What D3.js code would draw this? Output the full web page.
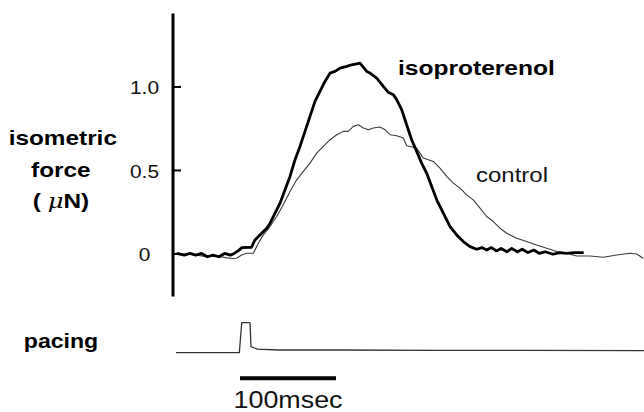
<!DOCTYPE html>
<html>
<head>
<meta charset="utf-8">
<script src="https://cdn.jsdelivr.net/npm/d3@7"></script>
<style>
  html, body { margin: 0; padding: 0; background: #fff; }
  svg { display: block; font-family: "Liberation Sans", Arial, Helvetica, sans-serif; }
</style>
</head>
<body>
<svg id="chart" width="644" height="412"></svg>
<script>
// ---- data (time in msec after stimulus, force in µN) ----
const isoTime = [-66,-58,-52,-46,-40,-34,-28,-22,-16,-10,-6,-2,2,12,15.6,20.8,27.8,31.3,36.5,41.7,46.9,52.1,57.3,62.5,67.7,72.9,78.1,83.3,88.5,93.8,99,104.2,111.1,116.3,121.5,125,132,135.4,142.4,149.3,154.5,159.7,163.2,168.4,173.6,178.8,184,189.2,194.4,199.7,204.9,211.8,218.8,225.7,232.6,239.6,246.5,252,257,262,267,272,278,283,289,294,300,306,312,318,326,333,340,348,358];
const isoForce = [0,-0.01,0,-0.01,0,-0.02,-0.01,-0.02,0,-0.01,0,0.015,0.035,0.037,0.081,0.111,0.151,0.181,0.241,0.301,0.381,0.461,0.561,0.641,0.731,0.821,0.911,0.971,1.03,1.08,1.09,1.11,1.12,1.13,1.135,1.14,1.09,1.08,1.05,1.0,0.965,0.951,0.921,0.861,0.771,0.681,0.611,0.541,0.481,0.401,0.321,0.241,0.161,0.111,0.071,0.041,0.025,0.035,0.02,0.035,0.015,0.03,0.01,0.03,0.01,0.025,0.005,0.02,0,0.01,-0.005,0.005,0,0.005,0.005];

const ctrlTime = [-66,-55,-45,-35,-25,-15,-8,-3.5,1.7,6.9,13.9,19.1,24.3,31.3,38.2,45.1,52.1,59,66,72.9,79.9,86.8,93.8,100.7,107.6,112.8,118.1,123.3,128.5,133.7,138.9,145.8,151,156.3,163.2,170.1,173.6,184,190.9,201.4,208.3,215.3,222.2,229.2,236.1,243,250,257,263.9,270.8,277.8,288.2,298.6,309,319.4,329.9,340.3,350.7,364.6,378.5,392.4,406.3,413.2,420];
const ctrlForce = [0,-0.005,-0.01,-0.02,-0.015,-0.025,-0.03,-0.029,-0.009,0.001,0.001,0.061,0.111,0.161,0.221,0.291,0.371,0.441,0.491,0.541,0.601,0.641,0.681,0.711,0.731,0.731,0.761,0.771,0.751,0.741,0.751,0.757,0.741,0.711,0.705,0.691,0.645,0.631,0.571,0.551,0.511,0.461,0.421,0.391,0.351,0.321,0.271,0.221,0.191,0.151,0.121,0.091,0.071,0.051,0.031,0.011,0.001,-0.015,-0.015,-0.023,-0.009,0.001,-0.003,-0.029];

const pacingTime = [-66.7,-0.7,1.8,10.4,11.5,18,40,100,200,300,420.8];
const pacingLevel = [0,0,1,1,0.2,0.12,0.09,0.09,0.08,0.08,0.07];

const yTickValues = [0, 0.5, 1.0];
const yTickLabels = ["0", "0.5", "1.0"];
const scaleBarMs = [0, 100];
const seriesLabels = ["isoproterenol", "control"];
const yTitleLines = ["isometric", "force"];

// ---- scales ----
const svg = d3.select("#chart");
const x = d3.scaleLinear().domain([0, 100]).range([240, 336]);
const y = d3.scaleLinear().domain([-0.255, 1.44]).range([296, 13]);
const yPace = d3.scaleLinear().domain([0, 1]).range([352.7, 322.7]);

// helper for horizontally-stretched text
function stretchedText(g, txt, cx, base, size, weight, sx, fill) {
  return g.append("text")
    .attr("transform", `translate(${cx},${base}) scale(${sx},1)`)
    .attr("text-anchor", "middle")
    .attr("font-size", size)
    .attr("font-weight", weight)
    .attr("fill", fill || "#000")
    .text(txt);
}

// ---- y axis ----
const axisX = 172.5;
const yAxis = d3.axisLeft(y)
  .tickValues(yTickValues)
  .tickFormat((d, i) => yTickLabels[i])
  .tickSize(-8.5)
  .tickSizeOuter(0);
const gAxis = svg.append("g")
  .attr("transform", `translate(${axisX},0)`)
  .call(yAxis);
gAxis.select(".domain").attr("stroke", "#000").attr("stroke-width", 3);
gAxis.selectAll(".tick line").attr("stroke", "#000").attr("stroke-width", 2);
gAxis.selectAll(".tick text")
  .attr("x", null).attr("dy", null)
  .attr("text-anchor", "middle")
  .attr("font-size", 19)
  .attr("font-family", "'Liberation Sans', Arial, sans-serif")
  .attr("fill", "#111")
  .attr("transform", "translate(-28,7.5) scale(1.1,1)");

// ---- lines ----
const line = d3.line().x(d => x(d[0])).y(d => y(d[1]));
const ctrlData = ctrlTime.map((t, i) => [t, ctrlForce[i]]);
const isoData = isoTime.map((t, i) => [t, isoForce[i]]);

svg.append("path").datum(ctrlData)
  .attr("d", line)
  .attr("fill", "none")
  .attr("stroke", "#3a3a3a")
  .attr("stroke-width", 1.1)
  .attr("stroke-linejoin", "round");

svg.append("path").datum(isoData)
  .attr("d", line)
  .attr("fill", "none")
  .attr("stroke", "#000")
  .attr("stroke-width", 2.8)
  .attr("stroke-linejoin", "round");

// ---- pacing trace ----
const paceLine = d3.line().x(d => x(d[0])).y(d => yPace(d[1]));
svg.append("path").datum(pacingTime.map((t, i) => [t, pacingLevel[i]]))
  .attr("d", paceLine)
  .attr("fill", "none")
  .attr("stroke", "#333")
  .attr("stroke-width", 1.3)
  .attr("stroke-linejoin", "round");

// ---- scale bar ----
svg.append("line")
  .attr("x1", x(scaleBarMs[0])).attr("x2", x(scaleBarMs[1]))
  .attr("y1", 378.3).attr("y2", 378.3)
  .attr("stroke", "#000").attr("stroke-width", 4);

// ---- texts ----
const gt = svg.append("g").attr("font-family", "'Liberation Sans', Arial, sans-serif");
stretchedText(gt, yTitleLines[0], 62.8, 145, 21, "bold", 1.16);
stretchedText(gt, yTitleLines[1], 60.8, 177, 21, "bold", 1.16);
const mu = gt.append("text")
  .attr("transform", "translate(61,208) scale(1.16,1)")
  .attr("text-anchor", "middle")
  .attr("font-size", 21).attr("font-weight", "bold");
mu.append("tspan").text("( ");
mu.append("tspan").attr("font-style", "italic").attr("font-weight", "normal").attr("font-family", "'DejaVu Serif', serif").text("μ");
mu.append("tspan").text("N)");

stretchedText(gt, seriesLabels[0], 476.4, 74.5, 21, "bold", 1.17);
stretchedText(gt, seriesLabels[1], 512, 181.7, 20, "normal", 1.2, "#111");
stretchedText(gt, "pacing", 61, 348, 21, "bold", 1.1);
stretchedText(gt, "100msec", 288, 407.5, 24, "normal", 1.12, "#111");
</script>
</body>
</html>
